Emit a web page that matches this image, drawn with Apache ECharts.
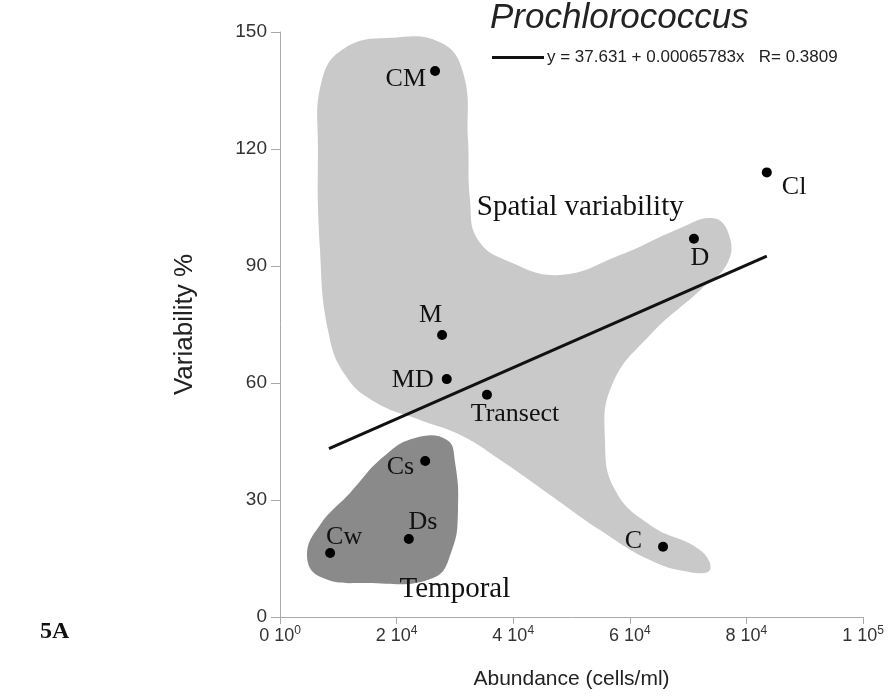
<!DOCTYPE html>
<html><head><meta charset="utf-8">
<script src="https://cdn.jsdelivr.net/npm/echarts@6/dist/echarts.min.js"></script>
<style>html,body{margin:0;padding:0;background:#fff}#chart{width:889px;height:697px}</style>
</head><body><div id="chart"></div>
<script>
// Sampling sites: abundance (cells/ml) and variability (%)
const siteNames   = ['CM', 'Cl', 'D', 'M', 'MD', 'Transect', 'Cs', 'Ds', 'Cw', 'C'];
const abundance   = [26600, 83500, 71000, 27800, 28600, 35500, 24900, 22100, 8600, 65700];
const variability = [140, 114, 97, 72.3, 61, 57, 40, 20, 16.4, 18];

// Linear fit reported in the legend
const fitIntercept = 37.631;
const fitSlope = 0.00065783;
const fitR = 0.3809;
const fitXRange = [8400, 83500];

// Outline of the spatial-variability region (abundance, variability)
const spatialX = [18870, 27440, 31390, 32250, 32590, 33960, 39450, 48030, 58320, 68610, 74100, 76840,
                  76840, 72040, 63460, 56950, 55750, 57460, 63460, 72040, 73760, 70330, 63460, 54890,
                  46310, 37740, 30870, 24010, 16300, 11150, 8230, 6860, 6520, 7200, 11150];
const spatialY = [148.5, 147.4, 139.7, 122.3, 106.9, 96.7, 91.0, 87.7, 92.8, 99.7, 102.3, 98.7,
                  91.0, 83.8, 72.3, 59.5, 45.4, 32.6, 23.6, 17.2, 12.1, 11.5, 14.6, 22.3,
                  31.3, 40.3, 46.7, 50.5, 55.1, 62.1, 73.6, 94.1, 119.7, 137.7, 145.9];

// Outline of the temporal region
const temporalX = [28640, 30020, 30530, 29500, 26240, 14920, 6860, 4630, 6860, 12010, 17670, 23160];
const temporalY = [45.4, 39.7, 27.4, 17.2, 10.0, 8.7, 10.3, 15.9, 23.6, 31.8, 41.0, 45.9];

// Region captions and where they sit
const regionNames = ['Spatial variability', 'Temporal'];
const regionLabelX = [51500, 30000];
const regionLabelY = [105, 7];

// Axis tick labels ("m 10^e")
const xTickMantissa = ['0', '2', '4', '6', '8', '1'];
const xTickExponent = ['0', '4', '4', '4', '4', '5'];
const yTickValues = [0, 30, 60, 90, 120, 150];

// Label placement around each site marker
const labelPlacement = {
  'CM':       { position: 'left',   distance: 4,  offset: [0, 8] },
  'Cl':       { position: 'right',  distance: 6,  offset: [4, 15] },
  'D':        { position: 'bottom', distance: 1,  offset: [6, 0] },
  'M':        { position: 'left',   distance: 2,  offset: [7, -20] },
  'MD':       { position: 'left',   distance: 8,  offset: [0, 1] },
  'Transect': { position: 'bottom', distance: 1,  offset: [28, 0] },
  'Cs':       { position: 'left',   distance: 6,  offset: [0, 6] },
  'Ds':       { position: 'top',    distance: 1,  offset: [14, 2] },
  'Cw':       { position: 'top',    distance: 1,  offset: [14, 3] },
  'C':        { position: 'left',   distance: 16, offset: [0, -6] }
};

const serif = '"Liberation Serif", "DejaVu Serif", serif';
const sans = '"Liberation Sans", Arial, sans-serif';

function regionSeries(xs, ys, fill, z) {
  return {
    type: 'custom',
    silent: true,
    z: z,
    clip: false,
    data: [[xs[0], ys[0]]],
    renderItem: function (params, api) {
      const pts = xs.map(function (x, i) { return api.coord([x, ys[i]]); });
      return {
        type: 'polygon',
        shape: { points: pts, smooth: 0.45 },
        style: { fill: fill }
      };
    }
  };
}

const fitName = 'y = ' + fitIntercept + ' + ' + fitSlope.toFixed(8) + 'x   R= ' + fitR;
const fitLine = fitXRange.map(function (x) { return [x, fitIntercept + fitSlope * x]; });

const siteData = siteNames.map(function (n, i) {
  const p = labelPlacement[n];
  return {
    name: n,
    value: [abundance[i], variability[i]],
    label: { position: p.position, distance: p.distance, offset: p.offset }
  };
});

const regionData = regionNames.map(function (n, i) {
  return { name: n, value: [regionLabelX[i], regionLabelY[i]] };
});

const chart = echarts.init(document.getElementById('chart'), null, { renderer: 'canvas' });
chart.setOption({
  backgroundColor: '#fff',
  animation: false,
  title: {
    text: 'Prochlorococcus',
    left: 485,
    top: -4,
    textStyle: { fontFamily: sans, fontSize: 35, fontStyle: 'italic', fontWeight: 'normal', color: '#222' }
  },
  legend: {
    left: 487,
    top: 44,
    icon: 'rect',
    itemWidth: 52,
    itemHeight: 3,
    itemGap: 0,
    selectedMode: false,
    data: [fitName],
    textStyle: { fontFamily: sans, fontSize: 17, color: '#222', padding: [0, 0, 0, -2] }
  },
  graphic: [{
    type: 'text',
    left: 40,
    top: 620,
    style: { text: '5A', fontFamily: serif, fontSize: 24, fontWeight: 'bold', fill: '#111' }
  }],
  grid: { left: 280, right: 26, top: 32, bottom: 80 },
  xAxis: {
    type: 'value',
    min: 0,
    max: 100000,
    interval: 20000,
    name: 'Abundance (cells/ml)',
    nameLocation: 'middle',
    nameGap: 52,
    nameTextStyle: { fontFamily: sans, fontSize: 21, color: '#222' },
    axisLine: { lineStyle: { color: '#aaa', width: 1 } },
    axisTick: { show: true, length: 7, lineStyle: { color: '#aaa' } },
    splitLine: { show: false },
    axisLabel: {
      margin: 8,
      formatter: function (v) {
        const i = Math.round(v / 20000);
        return '{m|' + xTickMantissa[i] + ' 10}{e|' + xTickExponent[i] + '}';
      },
      rich: {
        m: { fontFamily: sans, fontSize: 18, color: '#333', lineHeight: 20, verticalAlign: 'bottom' },
        e: { fontFamily: sans, fontSize: 12, color: '#333', lineHeight: 20, verticalAlign: 'top' }
      }
    }
  },
  yAxis: {
    type: 'value',
    min: 0,
    max: 150,
    interval: 30,
    name: 'Variability %',
    nameLocation: 'middle',
    nameGap: 82,
    nameTextStyle: { fontFamily: sans, fontSize: 26, color: '#222' },
    axisLine: { show: true, lineStyle: { color: '#aaa', width: 1 } },
    axisTick: { show: true, length: 9, lineStyle: { color: '#aaa' } },
    splitLine: { show: false },
    axisLabel: {
      margin: 13,
      fontFamily: sans,
      fontSize: 19,
      color: '#333',
      formatter: function (v) { return yTickValues.indexOf(v) >= 0 ? String(v) : ''; }
    }
  },
  series: [
    regionSeries(spatialX, spatialY, '#c9c9c9', 1),
    regionSeries(temporalX, temporalY, '#8a8a8a', 2),
    {
      name: fitName,
      type: 'line',
      z: 4,
      data: fitLine,
      symbol: 'none',
      color: '#111',
      lineStyle: { color: '#111', width: 3 },
      silent: true
    },
    {
      type: 'scatter',
      z: 5,
      symbolSize: 10,
      itemStyle: { color: '#000', opacity: 1 },
      data: siteData,
      label: {
        show: true,
        formatter: '{b}',
        fontFamily: serif,
        fontSize: 26,
        color: '#111'
      }
    },
    {
      type: 'scatter',
      z: 5,
      symbolSize: 0,
      silent: true,
      itemStyle: { opacity: 1 },
      data: regionData,
      label: {
        show: true,
        position: 'inside',
        formatter: '{b}',
        fontFamily: serif,
        fontSize: 29,
        color: '#111'
      }
    }
  ]
});
</script>
</body></html>
